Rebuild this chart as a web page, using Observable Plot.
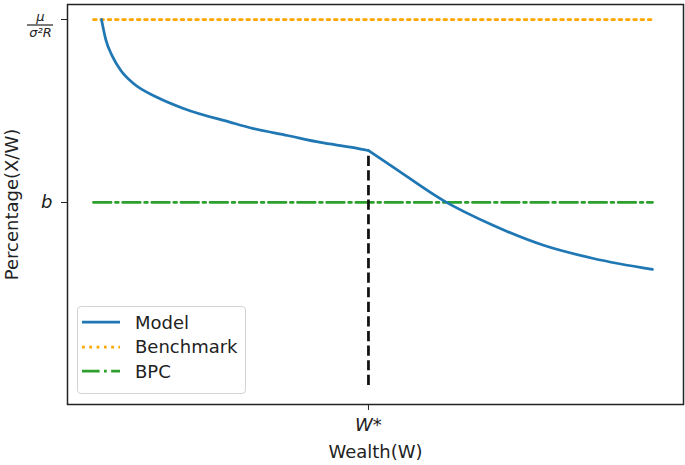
<!DOCTYPE html>
<html>
<head>
<meta charset="utf-8">
<script src="https://cdn.jsdelivr.net/npm/d3@7"></script>
<script src="https://cdn.jsdelivr.net/npm/@observablehq/plot@0.6"></script>
<style>
  body { margin: 0; background: #fff; font-family: "DejaVu Sans", sans-serif; }
  #wrap { position: relative; width: 685px; height: 465px; }
  #legend {
    position: absolute; left: 77px; top: 306px; width: 169px; height: 88px;
    border: 1px solid #d4d4d4; border-radius: 4px; background: rgba(255,255,255,0.85);
    box-sizing: border-box; font-size: 18px; color: #222;
  }
  .row { position: absolute; left: 0; height: 24px; display: flex; align-items: center; }
  .row svg { margin-left: 4px; margin-right: 15px; }
</style>
</head>
<body>
<div id="wrap"></div>
<script>
// ---- data ----
const modelW   = [1.43, 2.2, 3.3, 4.83, 7.16, 11.45, 16.10, 24.51, 28.62, 34.70, 40.61, 46.51, 49.19, 53.67, 62.61, 71.56, 80.50, 89.45, 100];
const modelPct = [1.0, 0.945, 0.902, 0.862, 0.825, 0.787, 0.757, 0.719, 0.702, 0.683, 0.664, 0.650, 0.642, 0.596, 0.505, 0.437, 0.383, 0.347, 0.317];
const wStar = 49.19;
const wStarPct = 0.642;
const benchmarkW = [0, 100];
const benchmarkPct = [1, 1];
const bpcW = [0, 100];
const bpcPct = [0.5, 0.5];
const yTicks = [1, 0.5];
const xTicks = [wStar];
const legendLabels = ["Model", "Benchmark", "BPC"];
const xLabel = "Wealth(W)";
const yLabel = "Percentage(X/W)";

// ---- tables ----
const kink = modelW.indexOf(wStar);
const model = [];
modelW.forEach((w, i) => {
  if (i <= kink) model.push({w, p: modelPct[i], seg: "left"});
  if (i >= kink) model.push({w, p: modelPct[i], seg: "right"});
});
const bench = benchmarkW.map((w, i) => ({w, p: benchmarkPct[i]}));
const bpc = bpcW.map((w, i) => ({w, p: bpcPct[i]}));

const blue = "#1f77b4", orange = "#ffa500", green = "#2ca02c";
const lw = 2.75;

const chart = Plot.plot({
  width: 685,
  height: 465,
  marginLeft: 67,
  marginRight: 2,
  marginTop: 4,
  marginBottom: 61,
  style: {fontFamily: "DejaVu Sans", fontSize: "18px", color: "#222", background: "white"},
  x: {domain: [-4.65, 105.55]},
  y: {domain: [-0.052, 1.041]},
  marks: [
    Plot.line(bench, {x: "w", y: "p", stroke: orange, strokeWidth: lw, strokeDasharray: "2.75,4.55"}),
    Plot.line(bpc, {x: "w", y: "p", stroke: green, strokeWidth: lw, strokeDasharray: "17.6,4.4,2.75,4.4"}),
    Plot.ruleX([wStar], {x: d => d, y1: 0, y2: wStarPct, stroke: "#111", strokeWidth: lw, strokeDasharray: "10.2,4.4"}),
    Plot.line(model, {x: "w", y: "p", z: "seg", stroke: blue, strokeWidth: lw, curve: "monotone-x"}),
    Plot.frame({stroke: "#222", strokeWidth: 1.5}),
    Plot.axisY({ticks: yTicks, tickSize: 6, tickPadding: 9, tickFormat: d => d === 0.5 ? "b" : "",
      fontStyle: "italic", fontSize: 18, label: null}),
    Plot.axisX({ticks: xTicks, tickSize: 6, tickPadding: 8, tickFormat: () => "W*",
      fontStyle: "italic", fontSize: 18, label: null}),
    // axis titles
    Plot.text([xLabel], {text: d => d, frameAnchor: "bottom", dy: 53, textAnchor: "middle", fontSize: 18}),
    Plot.text([yLabel], {text: d => d, frameAnchor: "left", dx: -55, rotate: -90, textAnchor: "middle", fontSize: 18}),
    // fraction μ / σ²R tick label
    Plot.text([yTicks[0]], {y: d => d, frameAnchor: "left", dx: -27, dy: -3, text: () => "μ",
      fontSize: 13, fontStyle: "italic", textAnchor: "middle"}),
    Plot.text([yTicks[0]], {y: d => d, frameAnchor: "left", dx: -27, dy: 13, text: () => "σ²R",
      fontSize: 13, fontStyle: "italic", textAnchor: "middle"})
  ]
});

// fraction bar drawn through the y scale
const ys = chart.scale("y");
const yb = ys.apply(yTicks[0]) + 6;
d3.select(chart).append("line")
  .attr("x1", 27).attr("x2", 53).attr("y1", yb).attr("y2", yb)
  .attr("stroke", "#222").attr("stroke-width", 1.2);

const wrap = document.getElementById("wrap");
wrap.appendChild(chart);

// legend
const legend = document.createElement("div");
legend.id = "legend";
const styles = [
  {stroke: blue, dash: null},
  {stroke: orange, dash: "2.75,4.55"},
  {stroke: green, dash: "17.6,4.4,2.75,4.4"}
];
legendLabels.forEach((lab, i) => {
  const row = document.createElement("div");
  row.className = "row";
  row.style.top = (3 + i * 24.5) + "px";
  const s = styles[i];
  row.innerHTML = `<svg width="38" height="10"><line x1="0" x2="38" y1="5" y2="5" stroke="${s.stroke}" stroke-width="${lw}" ${s.dash ? `stroke-dasharray="${s.dash}"` : ""}/></svg><span>${lab}</span>`;
  legend.appendChild(row);
});
wrap.appendChild(legend);
</script>
</body>
</html>
